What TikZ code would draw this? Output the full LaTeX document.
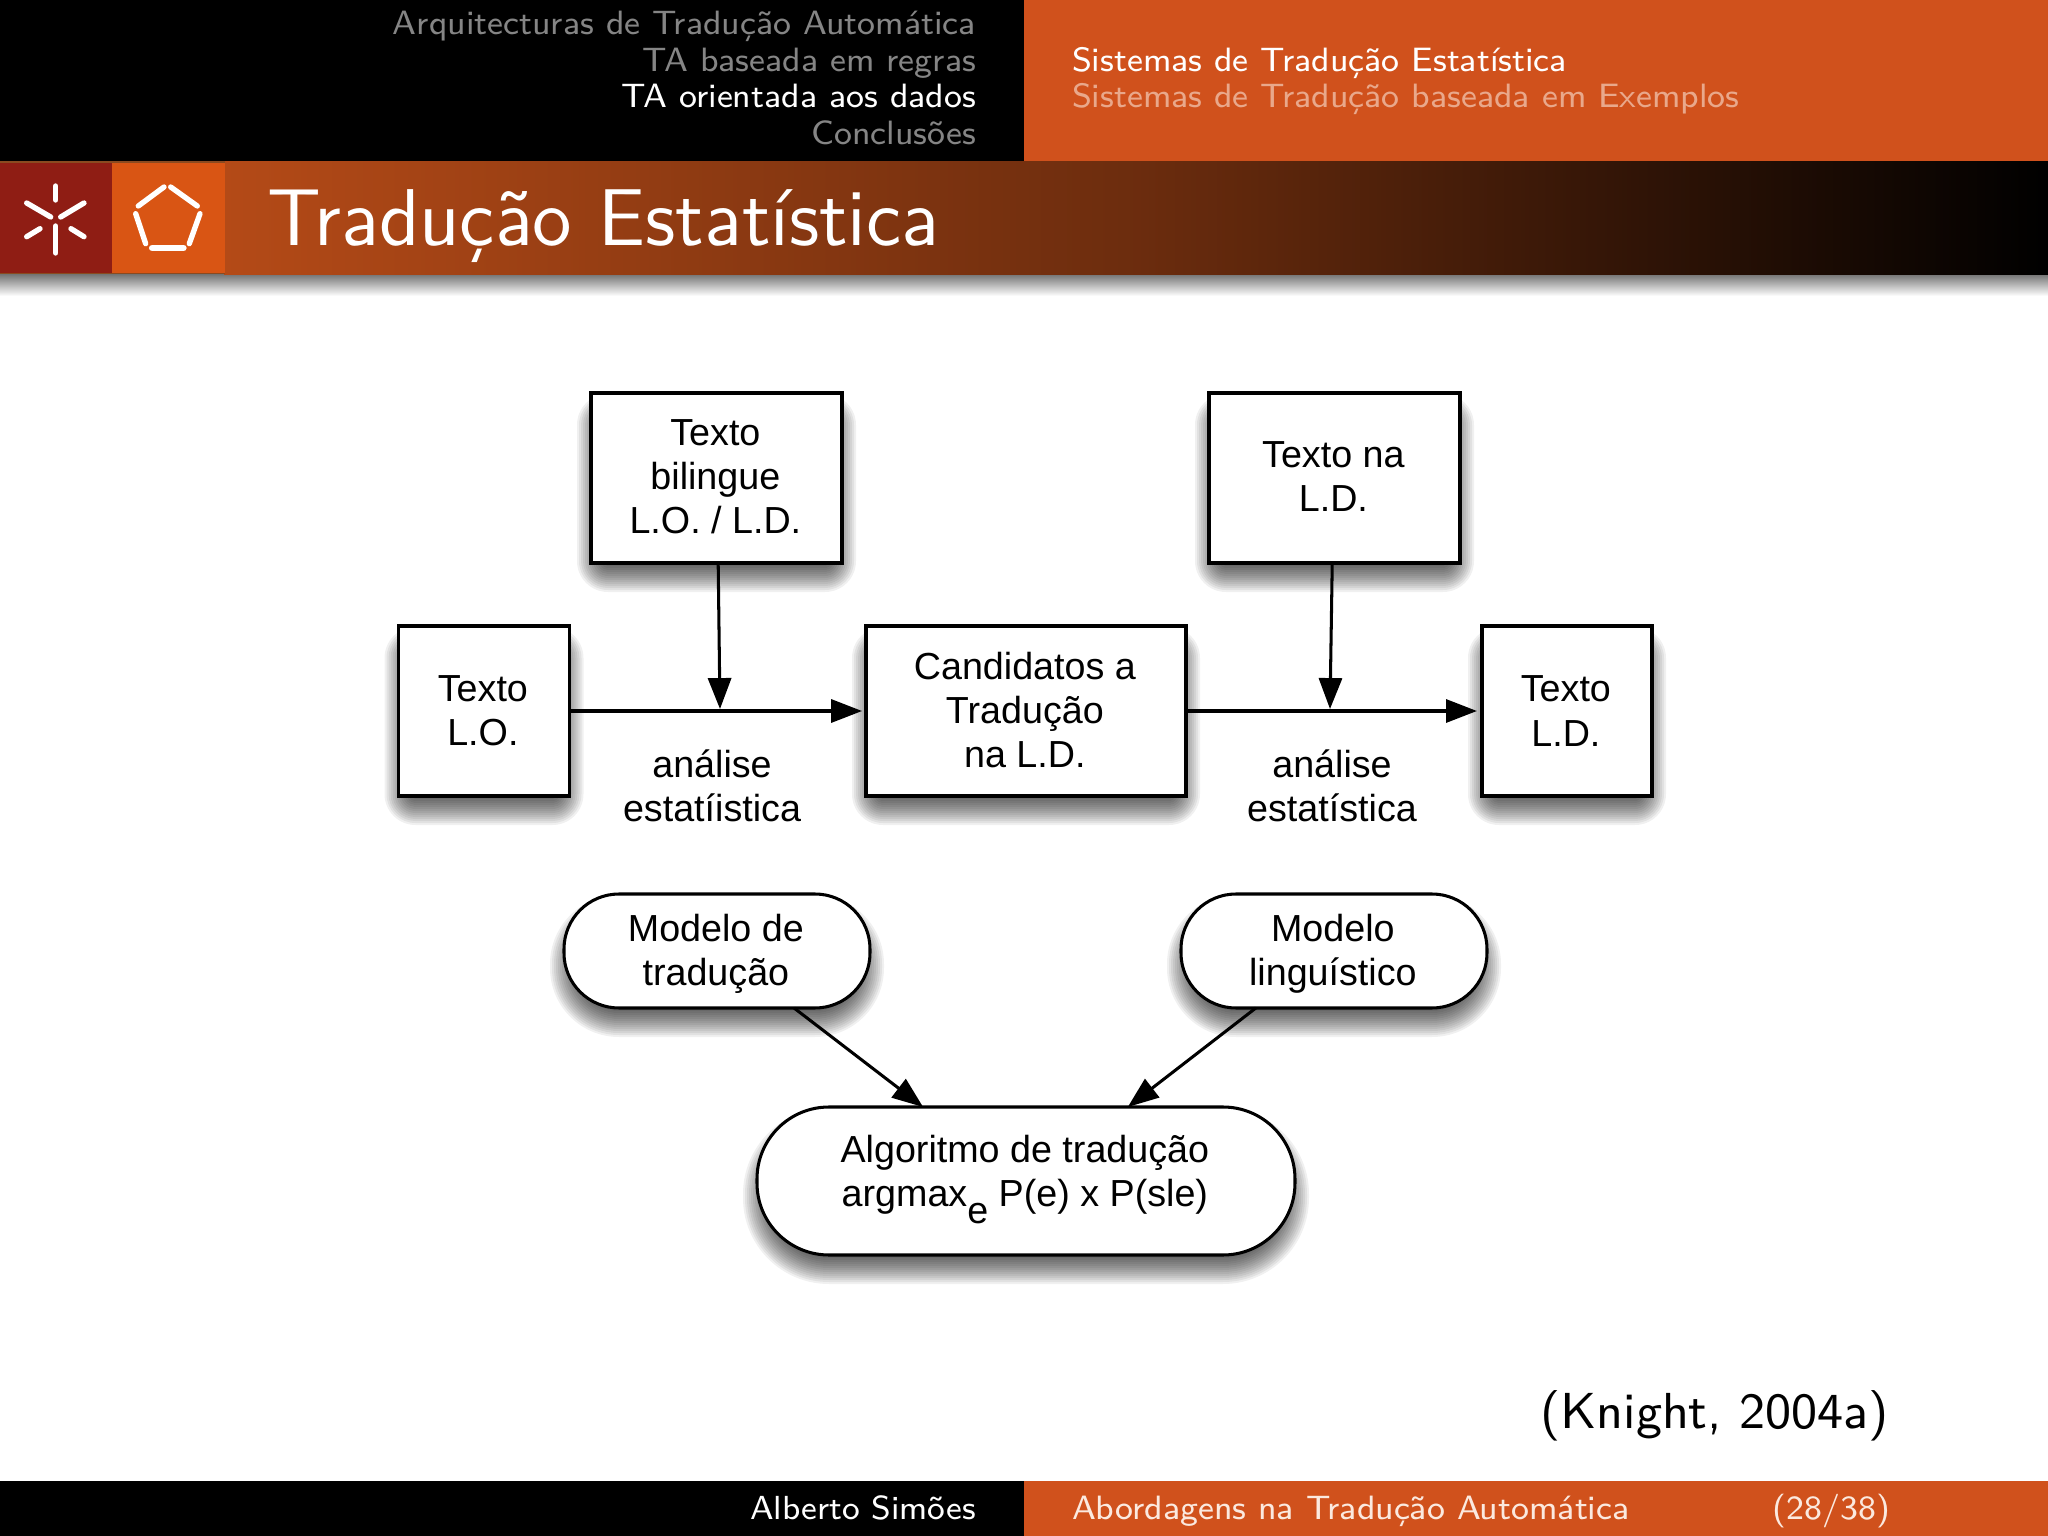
\documentclass[tikz,border=0pt]{standalone}
\usepackage{fontspec}
\usetikzlibrary{arrows.meta}
\newfontfamily\diafont{Liberation Sans}
\definecolor{umorange}{HTML}{D0511C}
\definecolor{umbright}{HTML}{D95514}
\definecolor{umred}{HTML}{8F1D14}
\definecolor{umtitle}{HTML}{B44A17}
\definecolor{umedge}{HTML}{8A4A20}
\definecolor{hdim}{HTML}{858585}
\definecolor{hdimo}{HTML}{E9A88B}
\definecolor{footo}{HTML}{FBE9DF}
\newcommand{\softshade}[5]{%
  \foreach \e in {-16,-14,...,14}{%
    \pgfmathsetmacro{\rr}{max(#5+\e,\e+17)}%
    \fill[black,fill opacity=0.06,rounded corners=\rr*0.0625mm]
      (#1-\e,#2-\e+15) rectangle (#3+\e,#4+\e+15);
  }%
}
% text block moved by a small amount without changing the size the node sees
\newcommand{\blocktext}[3]{\raisebox{#1}[\height][\depth]{\parbox{#2}{\centering #3}}\kern0.4pt}
\tikzset{
  x=0.0625mm,y=-0.0625mm,
  sz/.style 2 args={minimum width=#1*0.0625mm,minimum height=#2*0.0625mm},
  boxnode/.style={draw=black,fill=white,line width=0.54pt,inner sep=0pt,outer sep=0pt,align=center,
    font=\diafont\fontsize{6.7}{7.85}\selectfont},
  pill/.style={boxnode,rounded corners=55*0.0625mm},
  bigpill/.style={boxnode,rounded corners=72*0.0625mm},
  lbl/.style={inner sep=0pt,outer sep=0pt,align=center,font=\diafont\fontsize{6.7}{7.85}\selectfont},
  arr/.style={draw=black,line width=0.54pt,-{Triangle[length=5.5pt,width=4.1pt]}},
  hdr/.style={inner sep=0pt,outer sep=0pt,font=\sffamily\fontsize{6}{7}\selectfont},
  logostroke/.style={draw=white,line width=0.95pt,line cap=round},
}
\begin{document}
\begin{tikzpicture}
\useasboundingbox (0,0) rectangle (2048,1536);
\fill[white] (0,0) rectangle (2048,1536);
% header
\fill[black] (0,0) rectangle (1024,161);
\fill[umorange] (1024,0) rectangle (2048,161);
% title bar
\shade[top color=black!55,bottom color=white] (0,274) rectangle (2048,296);
\shade[left color=umtitle,right color=black,middle color=black!40!umtitle] (224,161) rectangle (2048,274);
\fill[umred] (0,161) rectangle (112,274);
\fill[umbright] (112,161) rectangle (225,274);
\fill[umedge] (0,161) rectangle (225,162.5);
\fill[umedge] (0,272.5) rectangle (225,274);
% logo 1
\draw[logostroke] (55.7,186) -- (55.7,200);
\draw[logostroke] (55.7,226) -- (55.7,253);
\draw[logostroke] (26.7,203) -- (50.7,217);
\draw[logostroke] (84,203) -- (60.7,217);
\draw[logostroke] (40,228.7) -- (26.7,236.7);
\draw[logostroke] (71,228.7) -- (84,236.7);
% logo 2
\draw[logostroke] (164,187) -- (138.3,206);
\draw[logostroke] (170.7,187) -- (197.3,206);
\draw[logostroke] (135.7,213.7) -- (145.7,243.7);
\draw[logostroke] (200,213.7) -- (189.3,243.7);
\draw[logostroke,line width=1.2pt] (152.3,248) -- (183.3,248);
% header text
\node[hdr,anchor=base east,text=hdim] (h1) at (976,34) {Arquitecturas de Tradução Automática};
\node[hdr,anchor=base east,text=hdim] (h2) at (976,71) {TA baseada em regras};
\node[hdr,anchor=base east,text=white] (h3) at (976,107) {TA orientada aos dados};
\node[hdr,anchor=base east,text=hdim] (h4) at (976,144) {Conclusões};
\node[hdr,anchor=base west,text=white] (s1) at (1072,71) {Sistemas de Tradução Estatística};
\node[hdr,anchor=base west,text=hdimo] (s2) at (1072,107) {Sistemas de Tradução baseada em Exemplos};
\node[inner sep=0pt,anchor=base west,text=white,font=\sffamily\fontsize{14.33}{16}\selectfont] (title) at (266,245) {Tradução Estatística};
% footer
\fill[black] (0,1481) rectangle (1024,1536);
\fill[umorange] (1024,1481) rectangle (2048,1536);
\node[hdr,anchor=base east,text=white,font=\sffamily\fontsize{5.93}{7}\selectfont] (f1) at (976,1519.5) {Alberto Simões};
\node[hdr,anchor=base west,text=footo] (f2) at (1072,1519.5) {Abordagens na Tradução Automática};
\node[hdr,anchor=base east,text=footo] (f3) at (1890,1519.5) {(28/38)};
\node[inner sep=0pt,anchor=base east,text=black,font=\sffamily\fontsize{9}{11}\selectfont] (cite) at (1890,1428) {(Knight, 2004a)};
% soft shadows
\softshade{591}{393}{842}{563}{0}
\softshade{1209}{393}{1460}{563}{0}
\softshade{398.5}{626}{569.5}{796}{0}
\softshade{866}{626}{1186}{796}{0}
\softshade{1482}{626}{1652}{796}{0}
\softshade{564}{894}{870}{1008}{55}
\softshade{1181}{894}{1487}{1008}{55}
\softshade{757}{1107}{1295}{1255}{72}
% boxes
\node[boxnode,sz={251}{170}] (bil) at (716.5,478) {\blocktext{0.23pt}{1.2cm}{Texto\\bilingue\\L.O. / L.D.}};
\node[boxnode,sz={251}{170}] (tna) at (1334.5,478) {\blocktext{0.23pt}{1.2cm}{Texto na\\L.D.}};
\node[boxnode,sz={171}{170}] (lo) at (484,711) {\blocktext{0pt}{0.9cm}{Texto\\L.O.}};
\node[boxnode,sz={320}{170}] (cand) at (1026,711) {\blocktext{0.23pt}{1.6cm}{Candidatos a\\Tradução\\na L.D.}};
\node[boxnode,sz={170}{170}] (ld) at (1567,711) {\blocktext{0pt}{0.9cm}{Texto\\L.D.}};
\node[pill,sz={306}{114}] (mt) at (717,951) {\blocktext{-0.46pt}{1.2cm}{Modelo de\\tradução}};
\node[pill,sz={306}{114}] (ml) at (1334,951) {\blocktext{-0.46pt}{1.2cm}{Modelo\\linguístico}};
\node[bigpill,sz={538}{148}] (alg) at (1026,1181) {\blocktext{0.23pt}{2.6cm}{Algoritmo de tradução\\argmax\raisebox{-3.06pt}{e} P(e) x P(sle)}};
% labels
\node[lbl] (la) at (712,786) {análise\\estatíistica};
\node[lbl] (lb) at (1332,786) {análise\\estatística};
% junctions
\coordinate (j1) at (720,709);
\coordinate (j2) at (1330,709);
% connectors
\draw[arr,shorten >=0.7pt] (lo) -- (cand);
\draw[arr,shorten >=0.9pt] (cand) -- (ld);
\draw[arr] ([xshift=0.3pt]bil.south) -- (j1);
\draw[arr] ([xshift=-0.4pt]tna.south) -- (j2);
\draw[arr] ([xshift=13.7pt]mt.south) -- ([xshift=-18.3pt]alg.north);
\draw[arr] ([xshift=-13.9pt]ml.south) -- ([xshift=18.1pt]alg.north);
\end{tikzpicture}
\end{document}
